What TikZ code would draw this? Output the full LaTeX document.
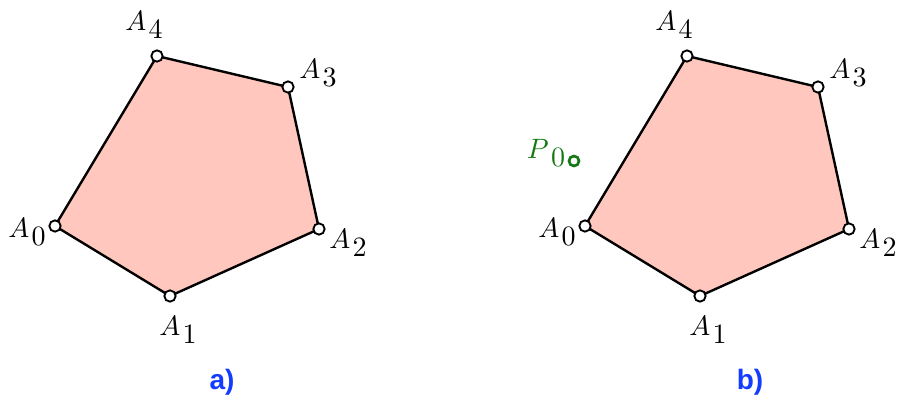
\documentclass[tikz,border=0pt]{standalone}
\usepackage{graphicx}
\usepackage{fontspec}
\newfontfamily\labfont{Liberation Sans}
\newcommand{\Lab}[2]{\scalebox{2.1}{$#1\kern0.08em\raisebox{-0.6ex}{$\textstyle #2$}$}}
\newcommand{\Cap}[1]{\scalebox{2.1}{\labfont\bfseries #1}}
\begin{document}
\begin{tikzpicture}[x=0.75pt,y=-0.75pt,
  vert/.style={circle,draw=black,fill=white,line width=1.4pt,inner sep=0pt,minimum size=8.5pt},
  pvert/.style={circle,fill=white,line width=2pt,inner sep=0pt,minimum size=7.5pt},
  lab/.style={inner sep=0pt},
  captxt/.style={inner sep=0pt}]
\useasboundingbox (0,0) rectangle (897,400);
\definecolor{polyfill}{RGB}{255,199,189}
\definecolor{capblue}{RGB}{20,60,255}
\definecolor{pgreen}{RGB}{20,120,20}
\foreach \dx/\nm in {0/a,530/b}{
  \coordinate (\nm0) at (55+\dx,226);
  \coordinate (\nm1) at (170+\dx,296);
  \coordinate (\nm2) at (319+\dx,229);
  \coordinate (\nm3) at (288+\dx,87);
  \coordinate (\nm4) at (157+\dx,56);
  \fill[polyfill] (\nm0) -- (\nm1) -- (\nm2) -- (\nm3) -- (\nm4) -- cycle;
  \draw[line width=1.8pt,line join=round] (\nm0) -- (\nm1) -- (\nm2) -- (\nm3) -- (\nm4) -- cycle;
  \foreach \i in {0,...,4}{\node[vert] (v\nm\i) at (\nm\i) {};}
  \node[lab] (l\nm0) at (27+\dx,232) {\Lab{A}{0}};
  \node[lab] (l\nm1) at (178+\dx,330) {\Lab{A}{1}};
  \node[lab] (l\nm2) at (348+\dx,243) {\Lab{A}{2}};
  \node[lab] (l\nm3) at (318+\dx,73) {\Lab{A}{3}};
  \node[lab] (l\nm4) at (144+\dx,25) {\Lab{A}{4}};
}
\node[pvert,draw=pgreen] (p0) at (574,161) {};
\node[lab,text=pgreen] (lp0) at (546,153) {\Lab{P}{0}};
\node[captxt,text=capblue] (capa) at (222,382) {\Cap{a)}};
\node[captxt,text=capblue] (capb) at (750,382) {\Cap{b)}};
\end{tikzpicture}
\end{document}
